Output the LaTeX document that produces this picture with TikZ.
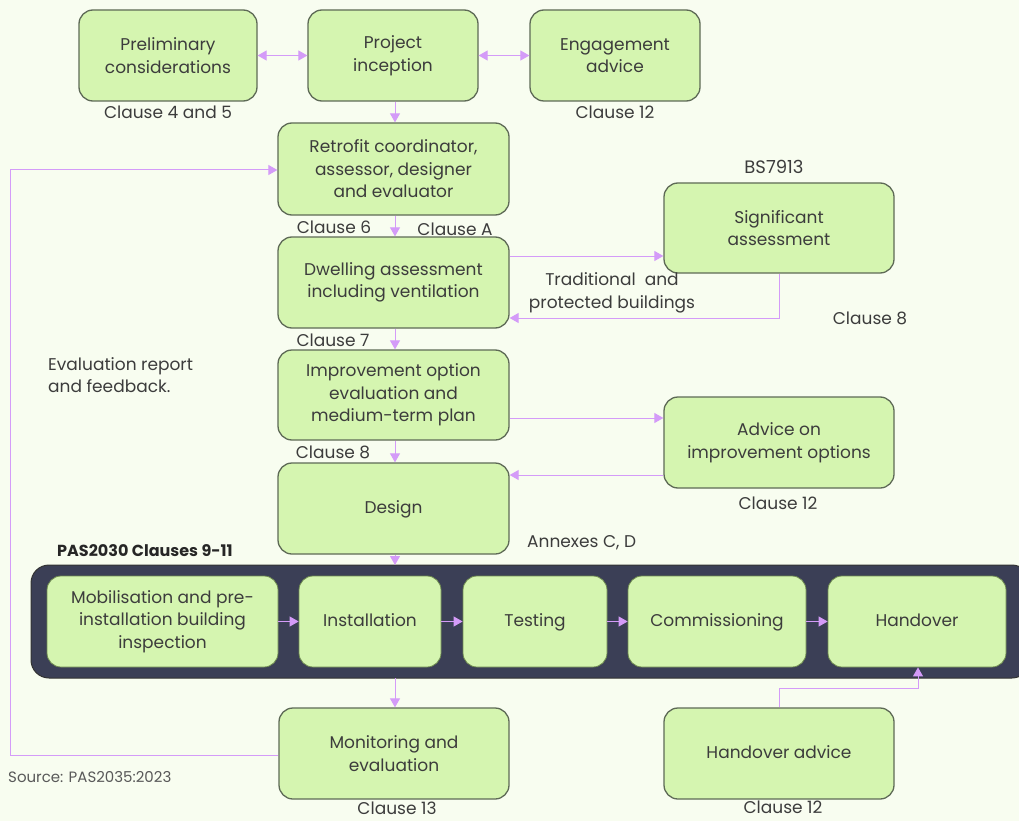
\documentclass[tikz,border=0pt]{standalone}
\usepackage{fontspec}
\setmainfont{Poppins}
\usetikzlibrary{arrows.meta}
\definecolor{bg}{HTML}{F8FDF0}
\definecolor{boxfill}{HTML}{D5F5B0}
\definecolor{boxborder}{HTML}{5E6A56}
\definecolor{txt}{HTML}{3C3C3C}
\definecolor{arr}{HTML}{D49BF8}
\definecolor{bar}{HTML}{3B3F56}
\definecolor{innerborder}{HTML}{6E8A50}
\tikzset{
  box/.style={draw=boxborder, fill=boxfill, rounded corners=14pt, line width=1.3pt,
    align=center, text=txt, inner sep=0pt, font=\fontsize{17}{22.5}\selectfont},
  ibox/.style={box, draw=innerborder, line width=0.8pt},
  lbl/.style={text=txt, inner sep=0pt, font=\fontsize{17}{22.5}\selectfont},
  conn/.style={draw=arr, line width=1pt},
  tip/.style={conn, -{Triangle[length=9pt,width=10pt]}},
  dtip/.style={conn, {Triangle[length=9pt,width=10pt]}-{Triangle[length=9pt,width=10pt]}},
}
\begin{document}
\begin{tikzpicture}[x=1pt,y=-1pt]
\fill[bg] (0,0) rectangle (1019,821);
\useasboundingbox (0,0) rectangle (1019,821);
% top row
\node[box, minimum width=178, minimum height=91] (prelim) at (168,55.5) {Preliminary\\considerations};
\node[box, minimum width=170, minimum height=91] (incep) at (393,55.5) {Project\\inception};
\node[box, minimum width=170, minimum height=91] (engage) at (615,55.5) {Engagement\\advice};
\node[lbl] (c45) at (168,112) {Clause 4 and 5};
\node[lbl] (c12a) at (615,112) {Clause 12};
% main column
\node[box, minimum width=231, minimum height=92] (retro) at (393.5,169) {Retrofit coordinator,\\assessor, designer\\and evaluator};
\node[lbl] (c6) at (334,227) {Clause 6};
\node[lbl] (cA) at (455,229) {Clause A};
\node[box, minimum width=231, minimum height=91] (dwell) at (393.5,282.5) {Dwelling assessment\\including ventilation};
\node[lbl] (c7) at (333,340) {Clause 7};
\node[box, minimum width=231, minimum height=90] (improve) at (393.5,395) {Improvement option\\evaluation and\\medium-term plan};
\node[lbl] (c8a) at (333,452) {Clause 8};
\node[box, minimum width=231, minimum height=91] (design) at (393.5,508.5) {\strut Design};
\node[lbl, anchor=west] (annex) at (527,543) {Annexes C, D};
% right column
\node[lbl, font=\fontsize{18}{22}\selectfont] (bs) at (774,167) {BS7913};
\node[box, minimum width=230, minimum height=90] (signif) at (779,228) {Significant\\assessment};
\node[lbl, align=center] (trad) at (612,293) {Traditional\ \ and\\protected buildings};
\node[lbl] (c8b) at (870,318) {Clause 8};
\node[box, minimum width=230, minimum height=91] (advice) at (779,442.5) {Advice on\\improvement options};
\node[lbl] (c12b) at (778,503) {Clause 12};
% left labels
\node[lbl, align=left, anchor=north west] (evalrep) at (48,357) {Evaluation report\\and feedback.};
% PAS2030 bar
\node[text=black!85, inner sep=0pt, anchor=west, font=\fontsize{16}{18}\bfseries\selectfont] (pas) at (57,551) {PAS2030 Clauses 9-11};
\draw[fill=bar, draw=black!80, line width=1pt, rounded corners=18pt] (31,565) rectangle (1030,678);
\coordinate (bartop) at (395,565);
\coordinate (barbot) at (395,678);
\node[ibox, minimum width=231, minimum height=91] (mobil) at (162.5,621.5) {Mobilisation and pre-\\installation building\\inspection};
\node[ibox, minimum width=142, minimum height=91] (install) at (370,621.5) {\strut Installation};
\node[ibox, minimum width=144, minimum height=91] (test) at (535,621.5) {\strut Testing};
\node[ibox, minimum width=178, minimum height=91] (commis) at (717,621.5) {\strut Commissioning};
\node[ibox, minimum width=178, minimum height=91] (handover) at (917,621.5) {\strut Handover};
% bottom
\node[box, minimum width=230, minimum height=91] (monitor) at (394,753.5) {Monitoring and\\evaluation};
\node[lbl] (c13) at (397,808) {Clause 13};
\node[box, minimum width=230, minimum height=91] (hadvice) at (779,753.5) {\strut Handover advice};
\node[lbl] (c12c) at (783,807) {Clause 12};
\node[lbl, anchor=west, font=\fontsize{15}{17}\selectfont, text=txt!85] (src) at (8,777) {Source: PAS2035:2023};
% connectors
\draw[dtip] (prelim.east) -- (incep.west);
\draw[dtip] (incep.east) -- (engage.west);
\draw[tip] (incep.south -| 395,0) -- (retro.north -| 395,0);
\draw[tip] (retro.south -| 395,0) -- (dwell.north -| 395,0);
\draw[tip] (dwell.south -| 395,0) -- (improve.north -| 395,0);
\draw[tip] (improve.south -| 395,0) -- (design.north -| 395,0);
\draw[tip] (design.south -| 395,0) -- (bartop);
\draw[tip] (barbot) -- (monitor.north -| 395,0);
\draw[tip] (dwell.east |- 0,256) -- (signif.west |- 0,256);
\draw[tip] (signif.south) -- (779,318) -- (dwell.east |- 0,318);
\draw[tip] (improve.east |- 0,418) -- (advice.west |- 0,418);
\draw[tip] (advice.west |- 0,475) -- (design.east |- 0,475);
\draw[tip] (mobil.east) -- (install.west);
\draw[tip] (install.east) -- (test.west);
\draw[tip] (test.east) -- (commis.west);
\draw[tip] (commis.east) -- (handover.west);
\draw[tip] (hadvice.north) -- (779,688) -- (918,688) -- (handover.south -| 918,0);
\draw[tip] (monitor.west |- 0,755) -- (10,755) -- (10,170) -- (retro.west |- 0,170);
\end{tikzpicture}
\end{document}
